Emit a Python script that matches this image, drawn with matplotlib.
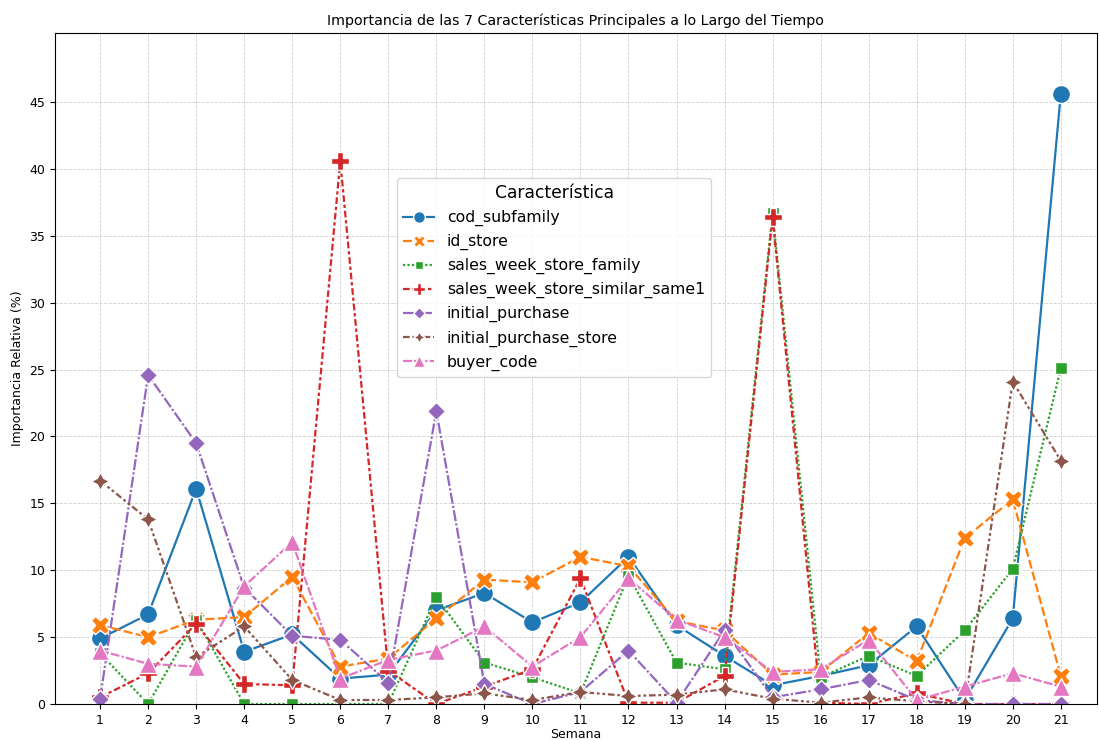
import matplotlib
matplotlib.use("Agg")
import matplotlib.pyplot as plt
import numpy as np

weeks = list(range(1, 22))

cod_subfamily = [4.9, 6.7, 16.1, 3.9, 5.2, 1.9, 2.2, 7.0, 8.3, 6.1, 7.6,
                 11.0, 5.9, 3.6, 1.4, 2.1, 2.9, 5.8, 0.3, 6.4, 45.6]
id_store = [5.9, 5.0, 6.3, 6.5, 9.5, 2.8, 3.4, 6.4, 9.3, 9.1, 11.0,
            10.3, 6.2, 5.5, 2.2, 2.4, 5.3, 3.2, 12.4, 15.3, 2.1]
sales_week_store_family = [3.8, 0.0, 6.3, 0.0, 0.0, 0.0, 0.0, 8.0, 3.1, 2.0, 0.8,
                           9.6, 3.1, 2.6, 36.7, 2.0, 3.6, 2.1, 5.5, 10.1, 25.1]
sales_week_store_similar_same1 = [0.5, 2.3, 6.0, 1.5, 1.4, 40.6, 2.5, 0.0, 1.3, 2.6, 9.4,
                                  0.1, 0.1, 2.1, 36.4, 0.1, 0.0, 0.8, 0.0, 0.0, 0.0]
initial_purchase = [0.4, 24.6, 19.5, 8.7, 5.1, 4.8, 1.6, 21.9, 1.5, 0.0, 0.9,
                    4.0, 0.1, 5.5, 0.5, 1.1, 1.8, 0.3, 0.0, 0.0, 0.0]
initial_purchase_store = [16.7, 13.8, 3.5, 5.8, 1.8, 0.3, 0.3, 0.5, 0.8, 0.3, 0.9,
                          0.6, 0.7, 1.1, 0.4, 0.1, 0.5, 0.2, 0.0, 24.1, 18.2]
buyer_code = [4.0, 3.0, 2.8, 8.8, 12.1, 1.9, 3.3, 4.0, 5.8, 2.8, 5.0,
              9.4, 6.3, 5.0, 2.4, 2.6, 4.8, 0.3, 1.3, 2.3, 1.3]

names = ["cod_subfamily", "id_store", "sales_week_store_family",
         "sales_week_store_similar_same1", "initial_purchase",
         "initial_purchase_store", "buyer_code"]
series = [cod_subfamily, id_store, sales_week_store_family,
          sales_week_store_similar_same1, initial_purchase,
          initial_purchase_store, buyer_code]

colors = ["#1f77b4", "#ff7f0e", "#2ca02c", "#d62728", "#9467bd", "#8c564b", "#e377c2"]
markers = ["o", "X", (4, 0, 45), "P", (4, 0, 0), (4, 1, 0), "^"]
dashes = [(None, None), (4, 1.5), (1, 1), (3, 1.25, 1.5, 1.25), (5, 1, 1, 1),
          (3, 1.25, 1.25, 1.25, 1.25, 1.25), (4, 1, 4, 1, 1, 1)]

fig = plt.figure(figsize=(10.99, 7.4), dpi=100)
ax = fig.add_axes([0.050, 0.0486, 0.948, 0.9068])

for name, vals, c, mk, ds in zip(names, series, colors, markers, dashes):
    line, = ax.plot(weeks, vals, color=c, marker=mk, markersize=13,
                    markeredgecolor="white", markeredgewidth=1, lw=1.6, label=name)
    if ds[0] is not None:
        line.set_dashes(ds)

# y top = 10% above the largest value
ymax = max(max(s) for s in series) * 1.1

ax.set_xticks(weeks)
ax.set_yticks(np.arange(0, 50, 5))
ax.set_xlim(0.06, 21.75)
ax.set_ylim(0, ymax)
ax.tick_params(labelsize=9)
ax.grid(True, linestyle="--", color="#b0b0b0", alpha=0.6, lw=0.6)
ax.set_xlabel("Semana", fontsize=9, labelpad=1)
ax.set_ylabel("Importancia Relativa (%)", fontsize=9)
ax.set_title("Importancia de las 7 Características Principales a lo Largo del Tiempo", fontsize=10.3)

leg = ax.legend(title="Característica", fontsize=11.3, title_fontsize=12.3,
                loc="upper left", bbox_to_anchor=(0.328, 0.784), borderaxespad=0,
                markerscale=0.65)

fig.savefig("out.png", dpi=100)
